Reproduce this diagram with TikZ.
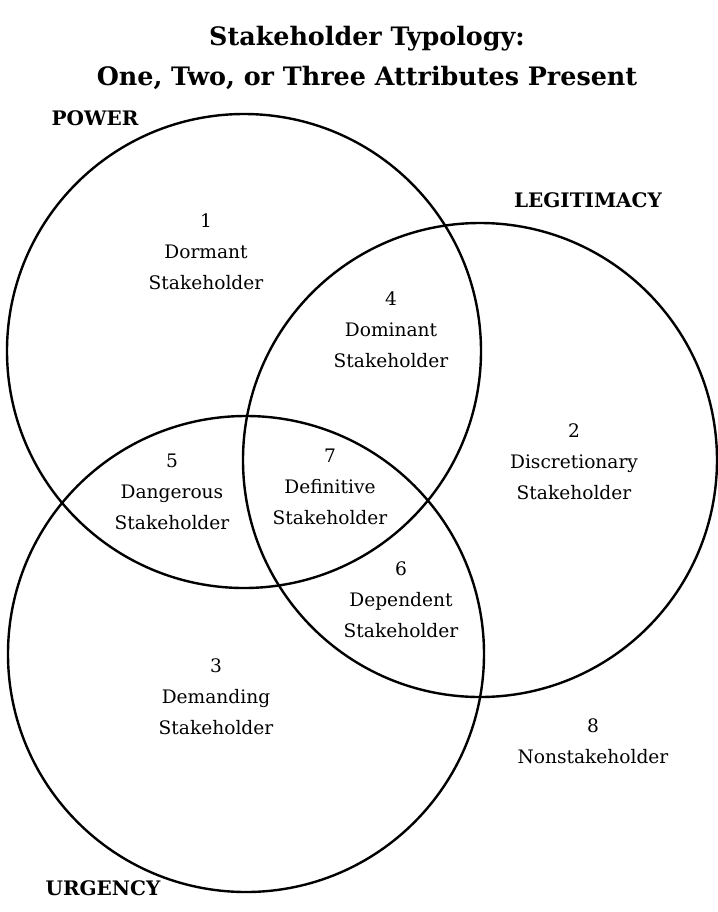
\documentclass[tikz,border=0pt]{standalone}
\usepackage{fontspec}
\setmainfont{DejaVu Serif}

\tikzset{
  ring/.style={line width=1.2pt},
  region/.style={align=center, font=\fontsize{9.3}{15.5}\selectfont},
  attr/.style={font=\bfseries\fontsize{10}{11}\selectfont},
  headline/.style={align=center, font=\bfseries\fontsize{12.7}{20}\selectfont}
}

\begin{document}
\begin{tikzpicture}[x=0.5pt, y=-0.5pt]
    \useasboundingbox (0,0) rectangle (718,912);
    % title
    \node[headline] (title) at (367,58) {Stakeholder Typology:\\One, Two, or Three Attributes Present};
    % the three attributes
    \coordinate (power) at (244,351);
    \coordinate (legit) at (480,460);
    \coordinate (urgency) at (246,654);
    \draw [ring] (power) circle (237);
    \draw [ring] (legit) circle (237);
    \draw [ring] (urgency) circle (238);
    \node[attr] (powerlabel) at (95,118) {POWER};
    \node[attr] (legitlabel) at (588,200) {LEGITIMACY};
    \node[attr] (urgencylabel) at (103,888) {URGENCY};
    % stakeholder classes
    \node[region] (dormant) at (206,252) {1\\Dormant\\Stakeholder};
    \node[region] (dominant) at (391,330) {4\\Dominant\\Stakeholder};
    \node[region] (discretionary) at (574,462) {2\\Discretionary\\Stakeholder};
    \node[region] (dangerous) at (172,492) {5\\Dangerous\\Stakeholder};
    \node[region] (definitive) at (330,487) {7\\Definitive\\Stakeholder};
    \node[region] (dependent) at (401,600) {6\\Dependent\\Stakeholder};
    \node[region] (demanding) at (216,697) {3\\Demanding\\Stakeholder};
    \node[region] (nonstake) at (593,741) {8\\Nonstakeholder};
\end{tikzpicture}
\end{document}
